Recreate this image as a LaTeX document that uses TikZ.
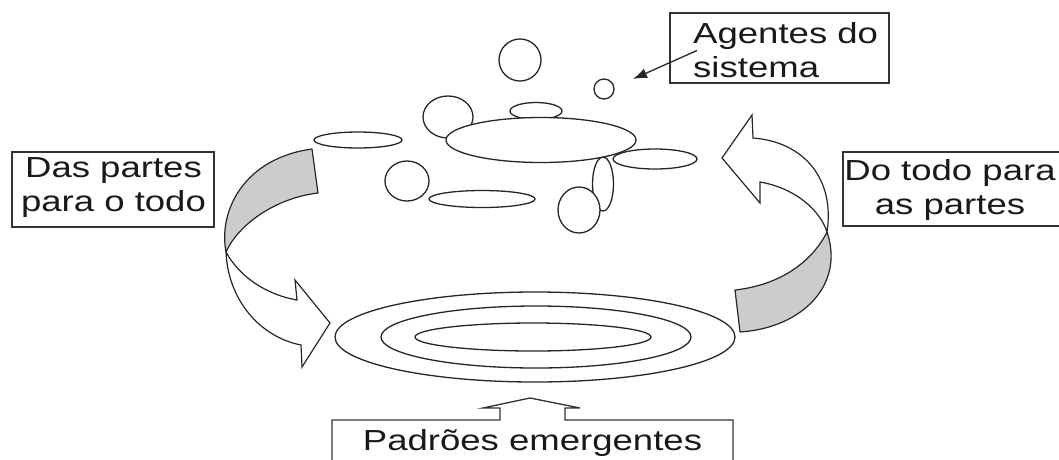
\documentclass[tikz,border=0pt]{standalone}
\usepackage{fontspec}
\setmainfont{Liberation Sans}[FakeStretch=1.26]
\usetikzlibrary{arrows.meta}
\begin{document}
\begin{tikzpicture}[x=1pt,y=-1pt,
  lbl/.style={font=\fontsize{29}{34}\selectfont, inner sep=0pt, align=center, text=black!90},
  box/.style={draw=black!80, line width=1.3pt},
  shp/.style={draw=black!85, line width=1.3pt, fill=white},
  band/.style={draw=black!85, fill=gray!40, line width=1.2pt, line join=round},
  front/.style={draw=black!85, fill=white, line width=1.2pt, line join=miter},
  arr/.style={-{Latex[length=14pt,width=10pt]}, draw=black!85, line width=1.3pt}]
\useasboundingbox (0,0) rectangle (1059,459);

% ---- agents (small shapes) ----
\draw[shp] (520,60) circle [radius=21pt];
\draw[shp] (604,89) circle [radius=10pt];
\draw[shp] (448,117) ellipse [x radius=25pt, y radius=21pt];
\draw[shp] (536,111) ellipse [x radius=26pt, y radius=8.5pt];
\draw[shp] (603,184) ellipse [x radius=10.5pt, y radius=27pt];
\draw[shp] (655,159) ellipse [x radius=42pt, y radius=10pt];
\draw[shp] (541,140) ellipse [x radius=95pt, y radius=22.5pt];
\draw[shp] (579,210) ellipse [x radius=21pt, y radius=23pt];
\draw[shp] (358,140) ellipse [x radius=44pt, y radius=8pt];
\draw[shp] (407,181) ellipse [x radius=22pt, y radius=20pt];
\draw[shp] (482,199) ellipse [x radius=53pt, y radius=8.5pt];

% ---- emergent patterns ----
\draw[shp] (535,337) ellipse [x radius=200pt, y radius=45pt];
\draw[shp] (536,337) ellipse [x radius=155pt, y radius=31pt];
\draw[shp] (533,337) ellipse [x radius=118pt, y radius=14pt];

% ---- left curved arrow ----
\draw[band] (312,149) -- (318,193) .. controls (275,198) and (238,225) .. (226,252)
  .. controls (218,210) and (245,158) .. (312,149) -- cycle;
\draw[front] (226,252) .. controls (228,300) and (260,337) .. (301,345)
  -- (302,367) -- (330,323) -- (295,280) -- (297,300)
  .. controls (268,295) and (240,278) .. (226,252) -- cycle;

% ---- right curved arrow ----
\draw[band] (735,290) -- (740,332) .. controls (802,328) and (845,285) .. (827,232)
  .. controls (812,262) and (780,285) .. (735,290) -- cycle;
\draw[front] (827,232) .. controls (835,180) and (805,142) .. (753,138)
  -- (752,115) -- (722,158) -- (760,203) -- (760,182)
  .. controls (795,188) and (820,210) .. (827,232) -- cycle;

% ---- labels ----
\draw[box] (12,152) rectangle (214,227);
\node[lbl] (daspartes) at (113.5,187.5) {Das partes\\para o todo};

\draw[box] (843,152) rectangle (1065,226);
\node[lbl] (dotodo) at (950,190) {Do todo para\\as partes};

\draw[box] (670,13) rectangle (889,83);
\node[lbl, align=left, anchor=west] (agentes) at (693,50.5) {Agentes do\\sistema};
\coordinate (agtip) at (633,79);
\draw[arr] ([xshift=4pt]agentes.west) -- (agtip);

\draw[box, line join=miter] (332,470) -- (332,420) -- (500,420) -- (500,408) -- (483,408)
  -- (530,398) -- (580,408) -- (565,408) -- (565,420) -- (733,420) -- (733,470);
\node[lbl, anchor=base] (padroes) at (532.5,450) {Padrões emergentes};
\end{tikzpicture}
\end{document}
